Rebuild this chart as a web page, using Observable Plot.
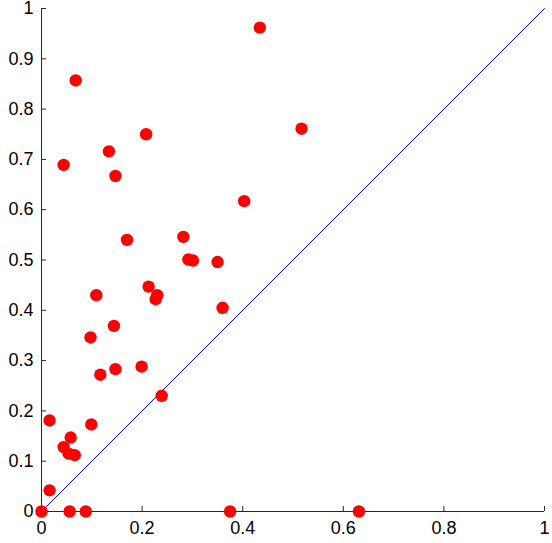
<!DOCTYPE html>
<html>
<head>
<meta charset="utf-8">
<script src="https://cdn.jsdelivr.net/npm/d3@7"></script>
<script src="https://cdn.jsdelivr.net/npm/@observablehq/plot@0.6"></script>
<style>
  html, body { margin: 0; padding: 0; background: #fff; }
  #chart { width: 552px; height: 543px; }
  #chart svg { overflow: visible; }
</style>
</head>
<body>
<div id="chart"></div>
<script>
const xs = [0, 0.016, 0.016, 0.044, 0.058, 0.054, 0.066, 0.099, 0.056, 0.088,
  0.239, 0.044, 0.134, 0.147, 0.403, 0.170, 0.282, 0.292, 0.301, 0.350,
  0.109, 0.213, 0.230, 0.227, 0.360, 0.144, 0.0975, 0.117, 0.147, 0.199,
  0.068, 0.434, 0.517, 0.208, 0.375, 0.631];
const ys = [0, 0.042, 0.181, 0.128, 0.147, 0.115, 0.112, 0.173, 0, 0,
  0.230, 0.689, 0.716, 0.667, 0.617, 0.540, 0.546, 0.501, 0.499, 0.496,
  0.430, 0.447, 0.430, 0.422, 0.405, 0.369, 0.346, 0.272, 0.283, 0.288,
  0.857, 0.962, 0.761, 0.750, 0, 0];
const diagonal = [0, 1];
const xTicks = [0, 0.2, 0.4, 0.6, 0.8, 1];
const yTicks = [0, 0.1, 0.2, 0.3, 0.4, 0.5, 0.6, 0.7, 0.8, 0.9, 1];

const points = xs.map((x, i) => ({x, y: ys[i]}));
const fmt = d => String(d);

const axisColor = "#262626";
const chart = Plot.plot({
  width: 552,
  height: 543,
  marginLeft: 41,
  marginRight: 8,
  marginTop: 8,
  marginBottom: 32,
  style: {fontFamily: "'Liberation Sans', Arial, Helvetica, sans-serif", fontSize: "18px", color: "#000", background: "#fff", overflow: "visible"},
  x: {domain: [0, 1]},
  y: {domain: [0, 1]},
  marks: [
    Plot.line(diagonal, {x: d => d, y: d => d, stroke: "#0000ff", strokeWidth: 1}),
    Plot.axisX({ticks: xTicks, tickFormat: fmt, tickSize: -5, tickPadding: 15, stroke: axisColor, fill: "#000", label: null, fontSize: 18}),
    Plot.axisY({ticks: yTicks, tickFormat: fmt, tickSize: -5, tickPadding: 13, stroke: axisColor, fill: "#000", label: null, fontSize: 18}),
    Plot.ruleX([0], {stroke: axisColor, strokeWidth: 1}),
    Plot.ruleY([0], {stroke: axisColor, strokeWidth: 1}),
    Plot.dot(points, {x: "x", y: "y", r: 6.2, fill: "#ff0000", stroke: "none"})
  ]
});
document.getElementById("chart").appendChild(chart);
</script>
</body>
</html>
